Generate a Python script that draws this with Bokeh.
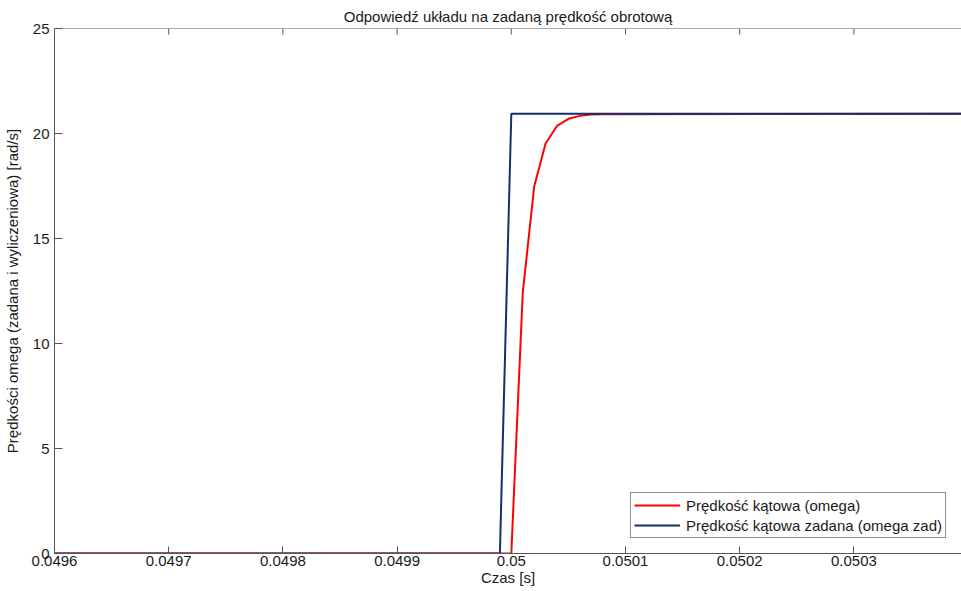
import math
from bokeh.plotting import figure
from bokeh.models import LinearAxis, FixedTicker, Range1d, Legend, LegendItem, Span
from bokeh.embed import file_html
from bokeh.resources import INLINE

# ---- data ----
x_ticks = [0.0496, 0.0497, 0.0498, 0.0499, 0.05, 0.0501, 0.0502, 0.0503]
x_tick_labels = ["0.0496", "0.0497", "0.0498", "0.0499", "0.05", "0.0501", "0.0502", "0.0503"]
y_ticks = [0, 5, 10, 15, 20, 25]

omega_t = [0.0496, 0.05, 0.05001, 0.05002, 0.05003, 0.05004, 0.05005, 0.05006, 0.05007, 0.05008, 0.0504]
omega = [0, 0, 12.40, 17.46, 19.52, 20.36, 20.70, 20.84, 20.90, 20.92, 20.94]

omega_zad_t = [0.0496, 0.04999, 0.05, 0.0504]
omega_zad = [0, 0, 20.94, 20.94]

title_text = "Odpowiedź układu na zadaną prędkość obrotową"
x_label = "Czas [s]"
y_label = "Prędkości omega (zadana i wyliczeniowa) [rad/s]"
legend_labels = ["Prędkość kątowa (omega)", "Prędkość kątowa zadana (omega zad)"]

FONT = "Liberation Sans"
FS = "15px"
AX = "#555555"
TXT = "#1a1a1a"

p = figure(width=961, height=591, output_backend="svg", toolbar_location=None,
           x_range=Range1d(0.0496, 0.0503942), y_range=Range1d(0, 25),
           min_border_left=54, min_border_right=0, min_border_top=28, min_border_bottom=38,
           x_axis_location=None, y_axis_location=None)
p.outline_line_color = None
p.grid.visible = False
p.background_fill_color = "white"
p.border_fill_color = "white"

p.title.text = title_text
p.title.align = "center"
p.title.text_font = FONT
p.title.text_font_size = FS
p.title.text_font_style = "normal"
p.title.text_color = TXT
p.title.standoff = 7
p.title.offset = 0

xticker = FixedTicker(ticks=x_ticks)
yticker = FixedTicker(ticks=y_ticks)
overrides = {v: s for v, s in zip(x_ticks, x_tick_labels)}

def style(ax, tick_in):
    ax.axis_line_color = AX
    ax.axis_line_width = 1
    ax.major_tick_line_color = AX
    ax.major_tick_in = tick_in
    ax.major_tick_out = 0
    ax.minor_tick_line_color = None
    ax.major_label_text_font = FONT
    ax.major_label_text_font_size = FS
    ax.major_label_text_color = TXT
    ax.axis_label_text_font = FONT
    ax.axis_label_text_font_size = FS
    ax.axis_label_text_font_style = "normal"
    ax.axis_label_text_color = TXT

xb = LinearAxis(ticker=xticker, axis_label=x_label)
style(xb, 7)
xb.major_label_overrides = overrides
xb.major_label_standoff = 2
xb.axis_label_standoff = 0
p.add_layout(xb, "below")

yl = LinearAxis(ticker=yticker, axis_label=y_label)
style(yl, 8)
yl.major_label_standoff = 5
yl.axis_label_standoff = 9
p.add_layout(yl, "left")

# top box edge with inward ticks (MATLAB style)
p.add_layout(Span(location=25, dimension="width", line_color=AX, line_width=1))
p.ray(x=x_ticks, y=[y_ticks[-1]] * len(x_ticks), length=6, length_units="screen",
      angle=-math.pi / 2, line_color=AX, line_width=1)

r1 = p.line(omega_t, omega, line_color="#ff0000", line_width=2)
r2 = p.line(omega_zad_t, omega_zad, line_color="#13306b", line_width=2)

legend = Legend(items=[LegendItem(label=legend_labels[0], renderers=[r1]),
                       LegendItem(label=legend_labels[1], renderers=[r2])],
                location=(576, 15))
legend.padding = 3
legend.glyph_height = 18
legend.label_height = 18
legend.spacing = 2
legend.glyph_width = 46
legend.label_standoff = 6
legend.label_text_font = FONT
legend.label_text_font_size = FS
legend.label_text_color = TXT
legend.border_line_color = "#222222"
legend.border_line_width = 1
legend.background_fill_color = "white"
legend.background_fill_alpha = 1
legend.margin = 0
p.add_layout(legend, "center")

open("out.html", "w").write(file_html(p, INLINE))
